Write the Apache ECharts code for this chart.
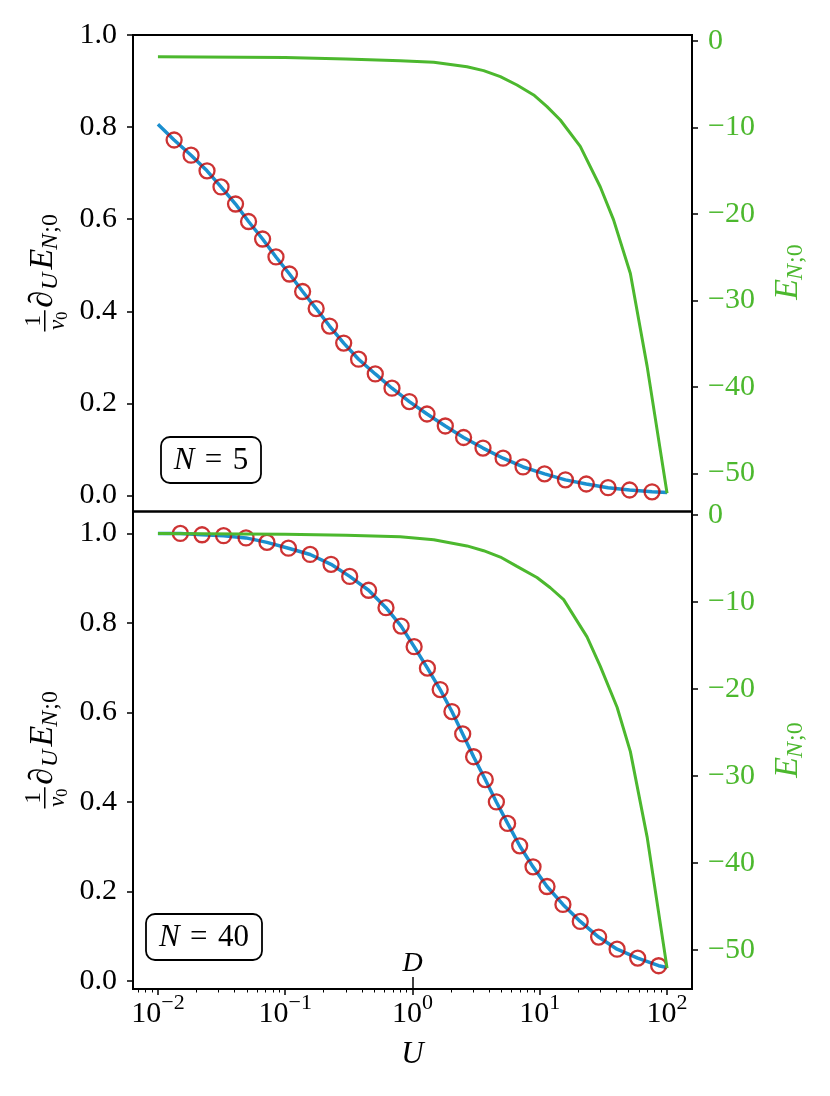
<!DOCTYPE html>
<html>
<head>
<meta charset="utf-8">
<script src="https://cdn.jsdelivr.net/npm/echarts@6/dist/echarts.min.js"></script>
<style>
  html, body { margin: 0; padding: 0; background: #fff; }
  #chart { width: 830px; height: 1096px; }
</style>
</head>
<body>
<div id="chart"></div>
<script>
//two panels, N = 5 on top, N = 40 below, shared log U axis

// ---- N = 5 ----
var circleU5 = [0.0134, 0.0182, 0.0243, 0.0313, 0.0407, 0.0515, 0.0664, 0.0846, 0.108, 0.137,
                0.175, 0.223, 0.288, 0.377, 0.510, 0.690, 0.944, 1.30, 1.81, 2.52,
                3.58, 5.15, 7.39, 10.9, 15.9, 23.2, 34.4, 50.8, 76.2];
var circleV5 = [0.772, 0.739, 0.705, 0.670, 0.633, 0.595, 0.557, 0.518, 0.481, 0.443,
                0.406, 0.368, 0.331, 0.296, 0.264, 0.233, 0.204, 0.177, 0.151, 0.126,
                0.103, 0.081, 0.062, 0.047, 0.034, 0.025, 0.017, 0.012, 0.008];
var lineU5 = [0.01].concat( circleU5, [100] );
var lineV5 = [0.806].concat( circleV5, [0.0065] );
var greenU5 = [0.01, 0.1, 0.3, 0.8, 1.47, 2.68, 3.62, 4.9, 6.62, 8.95, 11.4, 14.5, 20.8, 29.9, 38.0, 51.5, 69.7, 100];
var greenV5 = [-1.85, -1.95, -2.1, -2.31, -2.49, -3.0, -3.46, -4.16, -5.12, -6.27, -7.62, -9.16, -12.2, -16.9, -20.7, -26.9, -37.6, -52.3];

// ---- N = 40 ----
var circleU40 = [0.0150, 0.0222, 0.0328, 0.0492, 0.0719, 0.106, 0.157, 0.229, 0.321, 0.452,
                 0.619, 0.814, 1.03, 1.31, 1.65, 2.04, 2.48, 3.02, 3.73, 4.56,
                 5.59, 6.95, 8.85, 11.4, 15.2, 20.8, 29.0, 40.5, 58.8, 85.9];
var circleV40 = [1.000, 0.997, 0.995, 0.990, 0.980, 0.967, 0.953, 0.931, 0.904, 0.873,
                 0.834, 0.793, 0.747, 0.699, 0.651, 0.602, 0.552, 0.501, 0.450, 0.400,
                 0.352, 0.302, 0.255, 0.211, 0.171, 0.133, 0.098, 0.071, 0.051, 0.034];
var lineU40 = [0.01].concat( circleU40, [100] );
var lineV40 = [1.0].concat( circleV40, [0.030] );
var greenU40 = [0.01, 0.1, 0.3, 0.8, 1.47, 2.68, 3.62, 4.9, 6.62, 9.5, 12.1, 15.4, 23.5, 29.9, 40.5, 51.5, 69.7, 100];
var greenV40 = [-2.1, -2.2, -2.3, -2.48, -2.82, -3.54, -4.09, -4.82, -5.89, -7.17, -8.35, -9.72, -14.0, -17.4, -22.1, -27.2, -37.0, -52.1];

// ticks
var xMajor = [0.01, 0.1, 1, 10, 100];
var leftTicks = [0, 0.2, 0.4, 0.6, 0.8, 1.0];
var rightTicks = [-50, -40, -30, -20, -10, 0];
var markU = 1;

var FONT = 'Liberation Serif';
var BLUE = '#1b8fcf';
var RED = '#c00000';
var GREEN = '#4cb82e';

var xMin = Math.pow( 10, -2.196 );
var xMax = Math.pow( 10, 2.196 );

var xMinor = [];
for( var d = -3; d <= 2; d++ )
{
	for( var k = 2; k <= 9; k++ )
	{
		var v = k * Math.pow( 10, d );
		if( v > xMin && v < xMax ) xMinor.push( v );
	}
}

function pairs( xs, ys )
{
	return xs.map( function( x, i ){ return [x, ys[i]]; } );
}

function minusNum( v )
{
	return v < 0 ? '\u2212' + Math.abs( v ) : String( v );
}

//10^n labels
function powLabel( v )
{
	var e = Math.round( Math.log10( v ) );
	return '{b|10}{e|' + minusNum( e ) + '}';
}

function leftAxis( gi, min, max )
{
	return {
		type: 'value', gridIndex: gi, position: 'left', min: min, max: max,
		splitLine: { show: false },
		axisLine: { show: false, onZero: false },
		axisTick: { show: true, length: 6, customValues: leftTicks, lineStyle: { color: '#000', width: 1.5 } },
		axisLabel: {
			customValues: leftTicks, margin: 16, fontFamily: FONT, fontSize: 30, color: '#000',
			formatter: function( v ){ return v.toFixed( 1 ); }
		}
	};
}

function rightAxis( gi, min, max )
{
	return {
		type: 'value', gridIndex: gi, position: 'right', min: min, max: max,
		splitLine: { show: false },
		axisLine: { show: false, onZero: false },
		axisTick: { show: true, length: 6, customValues: rightTicks, lineStyle: { color: '#000', width: 1.5 } },
		axisLabel: {
			customValues: rightTicks, margin: 16, fontFamily: FONT, fontSize: 30, color: GREEN,
			formatter: function( v ){ return minusNum( Math.round( v ) ); }
		}
	};
}

//math-ish labels, laid out on a baseline then turned 90 degrees
var measure = document.createElement( 'canvas' ).getContext( '2d' );
function textW( t, size, italic )
{
	measure.font = ( italic ? 'italic ' : '' ) + size + 'px "' + FONT + '"';
	return measure.measureText( t ).width;
}

function textEl( t, x, base, size, italic, color )
{
	return {
		type: 'text', x: x, y: base - 0.3 * size, silent: true,
		style: { text: t, fontFamily: FONT, fontSize: size, fontStyle: italic ? 'italic' : 'normal',
		         fill: color, align: 'left', verticalAlign: 'middle' }
	};
}

function rotatedLabel( cx, cy, withFrac, color )
{
	var kids = [];
	var x = 0;
	var big = 34, sub = 24;
	if( withFrac )
	{
		var wNu = textW( '\u03bd', 23, true );
		var denW = wNu + textW( '0', 16, false );
		var fracW = denW + 4;
		kids.push( textEl( '1', fracW / 2 - textW( '1', 23, false ) / 2, -12, 23, false, color ) );
		kids.push( { type: 'rect', x: 0, y: 0, silent: true, shape: { x: 0.5, y: -9, width: fracW - 1, height: 1.5 }, style: { fill: color } } );
		kids.push( textEl( '\u03bd', 2, 12, 23, true, color ) );
		kids.push( textEl( '0', 2 + wNu, 15, 16, false, color ) );
		x = fracW + 2;
		kids.push( textEl( '\u2202', x, 0, big, true, color ) );
		x += textW( '\u2202', big, true ) + 1;
		kids.push( textEl( 'U', x, 5, sub, true, color ) );
		x += textW( 'U', sub, true ) + 3;
	}
	kids.push( textEl( 'E', x, 0, big, true, color ) );
	x += textW( 'E', big, true ) - 1;
	kids.push( textEl( 'N', x, 5, sub, true, color ) );
	x += textW( 'N', sub, true ) + 1;
	kids.push( textEl( ';0', x, 5, sub, false, color ) );
	x += textW( ';0', sub, false );
	kids.forEach( function( c ){ c.x -= x / 2; } );
	return { type: 'group', x: cx, y: cy, rotation: Math.PI / 2, children: kids };
}

function nBox( x, y, w, h, num )
{
	return {
		type: 'group', children: [
			{ type: 'rect', shape: { x: x, y: y, width: w, height: h, r: 9 }, style: { fill: '#fff', stroke: '#000', lineWidth: 1.8 } },
			{ type: 'text', x: x + w / 2, y: y + h / 2 + 1,
			  style: { text: '{i|N}\u2004=\u2004' + num, align: 'center', verticalAlign: 'middle', fill: '#000',
			           fontFamily: FONT, fontSize: 31,
			           rich: { i: { fontFamily: FONT, fontSize: 31, fontStyle: 'italic' } } } }
		]
	};
}

var chart = echarts.init( document.getElementById( 'chart' ), null, { renderer: 'canvas' } );

var gridStyle = { show: true, borderColor: '#000', borderWidth: 2, backgroundColor: 'transparent', containLabel: false, outerBoundsMode: 'none' };

chart.setOption({
	animation: false,
	backgroundColor: '#fff',
	grid: [
		Object.assign( { left: 133, right: 138, top: 35, height: 476.5 }, gridStyle ),
		Object.assign( { left: 133, right: 138, top: 511.5, height: 477.5 }, gridStyle )
	],
	xAxis: [
		{ type: 'log', gridIndex: 0, min: xMin, max: xMax, show: false, axisLine: { onZero: false } },
		{
			type: 'log', gridIndex: 1, min: xMin, max: xMax, position: 'bottom',
			splitLine: { show: false },
			axisLine: { show: false, onZero: false },
			axisTick: { show: true, length: 6, customValues: xMajor, lineStyle: { color: '#000', width: 1.5 } },
			axisLabel: {
				customValues: xMajor, margin: 10, formatter: powLabel,
				rich: {
					b: { fontFamily: FONT, fontSize: 30, lineHeight: 30, color: '#000', verticalAlign: 'bottom' },
					e: { fontFamily: FONT, fontSize: 22, lineHeight: 22, color: '#000', verticalAlign: 'bottom', padding: [0, 0, 15, 0] }
				}
			},
			name: 'U', nameLocation: 'middle', nameGap: 50,
			nameTextStyle: { fontFamily: FONT, fontSize: 31, fontStyle: 'italic', color: '#000' }
		},
		{
			type: 'log', gridIndex: 1, min: xMin, max: xMax, position: 'bottom',
			splitLine: { show: false },
			axisLine: { show: false, onZero: false },
			axisTick: { show: true, length: 3.5, customValues: xMinor, lineStyle: { color: '#000', width: 1 } },
			axisLabel: { show: false }
		}
	],
	yAxis: [
		leftAxis( 0, -0.0347, 1.0 ),
		rightAxis( 0, -54.4, 0.66 ),
		leftAxis( 1, -0.018, 1.049 ),
		rightAxis( 1, -54.5, 0.42 )
	],
	series: [
		{
			type: 'line', xAxisIndex: 0, yAxisIndex: 0, data: pairs( lineU5, lineV5 ),
			symbol: 'none', silent: true, lineStyle: { color: BLUE, width: 3.5 }, z: 2
		},
		{
			type: 'scatter', xAxisIndex: 0, yAxisIndex: 0, data: pairs( circleU5, circleV5 ),
			symbol: 'circle', symbolSize: 15, silent: true,
			itemStyle: { color: 'rgba(0,0,0,0)', borderColor: RED, borderWidth: 2.3 }, z: 3
		},
		{
			type: 'line', xAxisIndex: 0, yAxisIndex: 1, data: pairs( greenU5, greenV5 ),
			symbol: 'none', silent: true, lineStyle: { color: GREEN, width: 3 }, z: 4
		},
		{
			type: 'line', xAxisIndex: 1, yAxisIndex: 2, data: pairs( lineU40, lineV40 ),
			symbol: 'none', silent: true, lineStyle: { color: BLUE, width: 3.5 }, z: 2,
			markLine: {
				silent: true, symbol: ['none', 'none'], animation: false,
				lineStyle: { color: '#000', width: 1.5, type: 'solid' },
				label: { show: true, position: 'end', distance: -1, formatter: 'D',
				         fontFamily: FONT, fontSize: 28, fontStyle: 'italic', color: '#000' },
				data: [ [ { coord: [markU, -0.018] }, { coord: [markU, 0.009] } ] ]
			}
		},
		{
			type: 'scatter', xAxisIndex: 1, yAxisIndex: 2, data: pairs( circleU40, circleV40 ),
			symbol: 'circle', symbolSize: 15, silent: true,
			itemStyle: { color: 'rgba(0,0,0,0)', borderColor: RED, borderWidth: 2.3 }, z: 3
		},
		{
			type: 'line', xAxisIndex: 1, yAxisIndex: 3, data: pairs( greenU40, greenV40 ),
			symbol: 'none', silent: true, lineStyle: { color: GREEN, width: 3 }, z: 4
		}
	],
	graphic: [
		rotatedLabel( 53, 273, true, '#000' ),
		rotatedLabel( 53, 750, true, '#000' ),
		rotatedLabel( 798, 272, false, GREEN ),
		rotatedLabel( 798, 750, false, GREEN ),
		nBox( 161, 437, 100, 46, '5' ),
		nBox( 146, 914, 116, 46, '40' )
	]
});
</script>
</body>
</html>
